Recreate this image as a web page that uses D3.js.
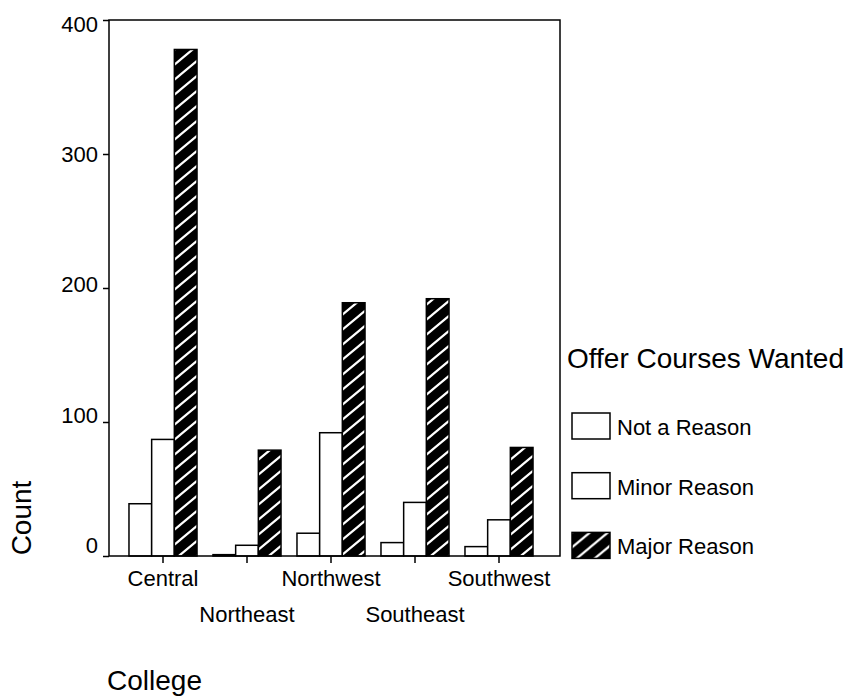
<!DOCTYPE html>
<html><head><meta charset="utf-8">
<script src="https://cdn.jsdelivr.net/npm/d3@7"></script>
<style>body{margin:0;background:#fff} text{font-family:"Liberation Sans",Arial,sans-serif;fill:#000}</style>
</head><body>
<script>
const categories = ["Central","Northeast","Northwest","Southeast","Southwest"];
const seriesNames = ["Not a Reason","Minor Reason","Major Reason"];
const notReason = [39, 1, 17, 10, 7];
const minorReason = [87, 8, 92, 40, 27];
const majorReason = [378, 79, 189, 192, 81];
const yTicks = [0, 100, 200, 300, 400];
const xTitle = "College", yTitle = "Count", legendTitle = "Offer Courses Wanted";

const W = 850, H = 700;
const svg = d3.select("body").append("svg").attr("width", W).attr("height", H);
const defs = svg.append("defs");
const pat = defs.append("pattern").attr("id", "hatch").attr("patternUnits", "userSpaceOnUse")
  .attr("width", 18).attr("height", 15);
pat.append("rect").attr("width", 18).attr("height", 15).attr("fill", "#000");
pat.append("path").attr("d", "M0,15L18,0M-2,1.67L2,-1.67M16,16.67L20,13.33")
  .attr("stroke", "#fff").attr("stroke-width", 2.2).attr("fill", "none");

const plot = {left: 109, right: 560, top: 20, bottom: 556};
const y = d3.scaleLinear().domain([0, 400]).range([plot.bottom, plot.top]);
const yLab = d3.scaleLinear().domain([0, 400]).range([545, 24]);
const x = d3.scaleBand().domain(categories).range([121, 541]).paddingInner(0.19).paddingOuter(0.095);
const xs = d3.scaleBand().domain(seriesNames).range([0, x.bandwidth()]);
const fills = {"Not a Reason": "#fff", "Minor Reason": "#fff", "Major Reason": "url(#hatch)"};
const seriesVals = {"Not a Reason": notReason, "Minor Reason": minorReason, "Major Reason": majorReason};

// bars
const rows = [];
categories.forEach((c, i) => seriesNames.forEach(s => rows.push({c, s, v: seriesVals[s][i]})));
svg.append("g").selectAll("rect").data(rows).join("rect")
  .attr("x", d => x(d.c) + xs(d.s))
  .attr("y", d => y(d.v))
  .attr("width", xs.bandwidth())
  .attr("height", d => y(0) - y(d.v))
  .attr("fill", d => fills[d.s])
  .attr("stroke", "#000").attr("stroke-width", 1.5);

// frame
svg.append("rect").attr("x", plot.left).attr("y", plot.top)
  .attr("width", plot.right - plot.left).attr("height", plot.bottom - plot.top)
  .attr("fill", "none").attr("stroke", "#000").attr("stroke-width", 1.5);

// y axis
const ya = svg.append("g").attr("transform", `translate(${plot.left},0)`)
  .call(d3.axisLeft(y).tickValues(yTicks).tickSize(6).tickFormat(""));
ya.select(".domain").remove();
ya.selectAll("line").attr("stroke-width", 1.5);
svg.append("g").selectAll("text").data(yTicks).join("text")
  .attr("x", 98).attr("y", d => yLab(d)).attr("dy", "0.36em")
  .attr("text-anchor", "end").attr("font-size", 22).text(d => d);

// x axis
const xa = svg.append("g").attr("transform", `translate(0,${plot.bottom})`)
  .call(d3.axisBottom(x).tickSize(7).tickFormat(""));
xa.select(".domain").remove();
xa.selectAll("line").attr("stroke-width", 1.5);
svg.append("g").selectAll("text").data(categories).join("text")
  .attr("x", d => x(d) + x.bandwidth() / 2)
  .attr("y", (d, i) => i % 2 === 0 ? 586 : 622)
  .attr("text-anchor", "middle").attr("font-size", 22).text(d => d);

// axis titles
svg.append("text").attr("x", 107).attr("y", 690).attr("font-size", 28).text(xTitle);
svg.append("text").attr("transform", "translate(31,518) rotate(-90)")
  .attr("text-anchor", "middle").attr("font-size", 28).text(yTitle);

// legend
svg.append("text").attr("x", 567).attr("y", 368).attr("font-size", 28).text(legendTitle);
const lg = svg.append("g").selectAll("g").data(seriesNames).join("g")
  .attr("transform", (d, i) => `translate(572,${413 + i * 59.7})`);
lg.append("rect").attr("width", 38).attr("height", 26)
  .attr("fill", d => fills[d]).attr("stroke", "#000").attr("stroke-width", 1.5);
lg.append("text").attr("x", 45).attr("y", 22).attr("font-size", 22).text(d => d);
</script>
</body></html>
